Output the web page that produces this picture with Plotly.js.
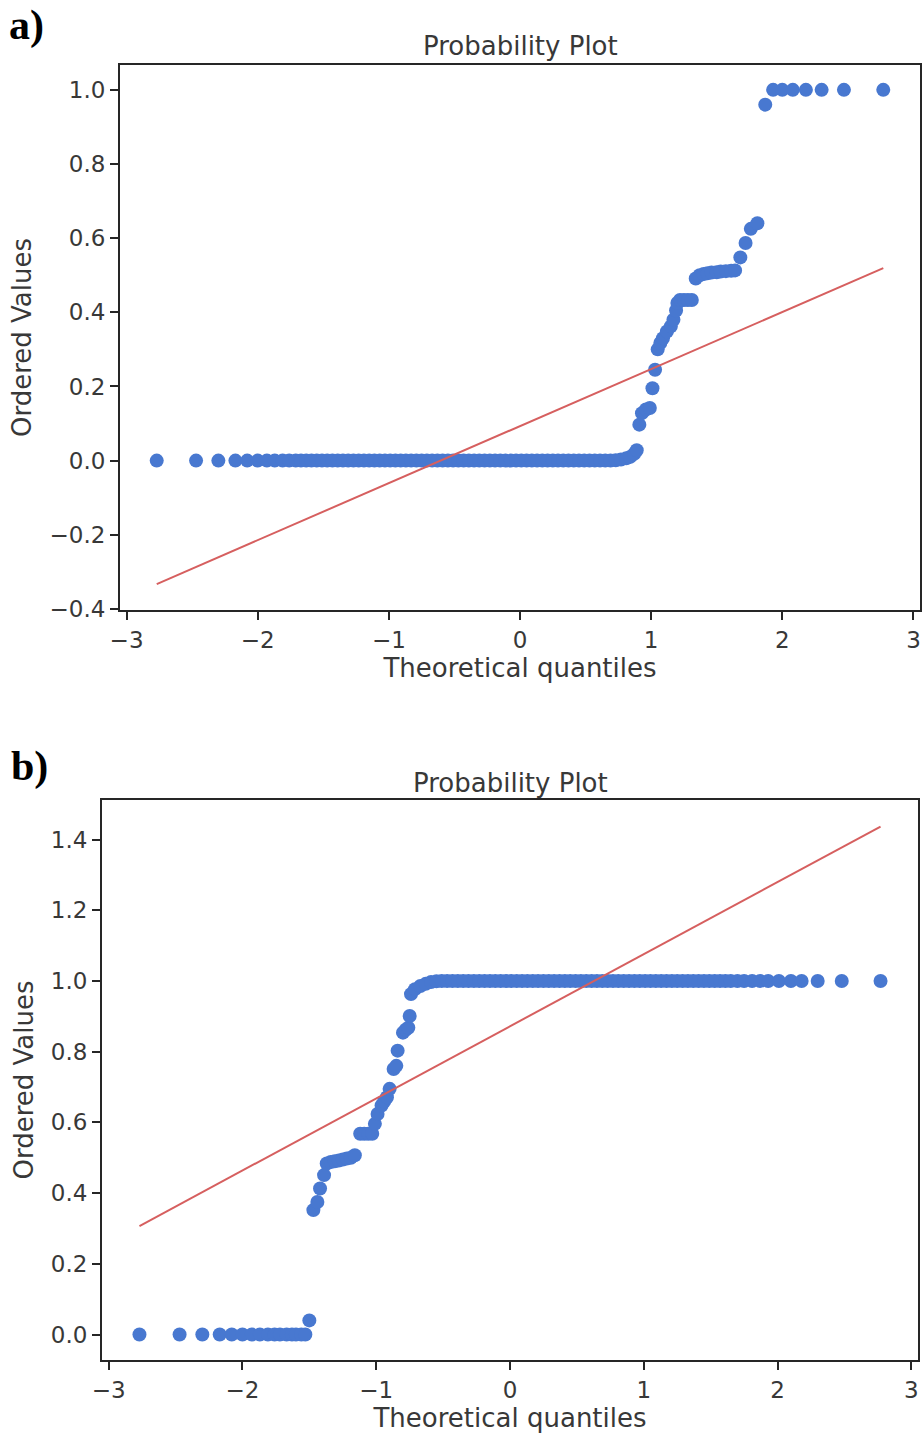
<!DOCTYPE html>
<html>
<head>
<meta charset="utf-8">
<script src="https://cdn.plot.ly/plotly-3.0.1.min.js"></script>
<style>html,body{margin:0;padding:0;background:#fff;}#chart{width:922px;height:1437px;}</style>
</head>
<body>
<div id="chart"></div>
<script>
// ---------- Panel a data (theoretical quantile, ordered value) ----------
const quantilesA = [-2.77,-2.47,-2.30,-2.17,-2.08,-2.00,-1.93,-1.87,-1.81,-1.76,-1.71,-1.67,-1.63,-1.59,-1.55,-1.51,-1.47,-1.43,-1.39,-1.35,-1.31,-1.27,-1.23,-1.19,-1.15,-1.11,-1.07,-1.03,-0.99,-0.95,-0.91,-0.87,-0.83,-0.79,-0.75,-0.71,-0.67,-0.63,-0.59,-0.55,-0.51,-0.47,-0.43,-0.39,-0.35,-0.31,-0.27,-0.23,-0.19,-0.15,-0.11,-0.07,-0.03,0.01,0.05,0.09,0.13,0.17,0.21,0.25,0.29,0.33,0.37,0.41,0.45,0.49,0.53,0.57,0.61,0.65,0.69,
  0.73,0.77,0.81,0.84,0.87,0.89,0.91,0.93,0.96,0.99,1.01,1.03,1.05,1.07,1.09,1.12,1.15,1.17,1.19,1.20,1.22,1.25,1.28,1.31,1.34,1.37,1.40,1.43,1.46,1.50,1.53,1.57,1.61,1.64,1.68,1.72,1.76,1.81,1.87,1.93,2.00,2.08,2.18,2.30,2.47,2.77];
const valuesA = [0,0,0,0,0,0,0,0,0,0,0,0,0,0,0,0,0,0,0,0,0,0,0,0,0,0,0,0,0,0,0,0,0,0,0,0,0,0,0,0,0,0,0,0,0,0,0,0,0,0,0,0,0,0,0,0,0,0,0,0,0,0,0,0,0,0,0,0,0,0,0,
  0.001,0.003,0.006,0.010,0.018,0.028,0.097,0.128,0.138,0.142,0.195,0.245,0.300,0.317,0.330,0.348,0.362,0.380,0.405,0.425,0.433,0.433,0.433,0.433,0.491,0.500,0.503,0.505,0.507,0.508,0.510,0.511,0.512,0.513,0.548,0.587,0.625,0.640,0.960,1.0,1.0,1.0,1.0,1.0,1.0,1.0];
const fitXA = [-2.77, 2.77];
const fitYA = [-0.333, 0.519];

// ---------- Panel b data ----------
const quantilesB = [-2.77,-2.47,-2.30,-2.17,-2.08,-2.00,-1.93,-1.87,-1.81,-1.76,-1.72,-1.67,-1.63,-1.60,-1.56,-1.53,-1.50,
  -1.47,-1.44,-1.42,-1.39,-1.37,-1.34,-1.31,-1.28,-1.25,-1.22,-1.19,-1.16,-1.12,-1.09,-1.06,-1.03,-1.01,-0.99,-0.96,-0.94,-0.92,-0.90,-0.87,-0.85,-0.84,-0.80,-0.78,-0.76,-0.75,-0.74,-0.71,-0.67,-0.63,-0.59,-0.55,
  -0.51,-0.47,-0.43,-0.39,-0.35,-0.31,-0.27,-0.23,-0.19,-0.15,-0.11,-0.07,-0.03,0.01,0.05,0.09,0.13,0.17,0.21,0.25,0.29,0.33,0.37,0.41,0.45,0.49,0.53,0.57,0.61,0.65,0.69,0.73,0.77,0.81,0.85,0.89,0.93,0.97,1.01,1.05,1.09,1.13,1.17,1.21,1.25,1.29,1.33,1.37,1.41,1.45,1.49,1.53,1.57,1.61,1.65,1.70,1.75,1.81,1.87,1.93,2.01,2.10,2.18,2.30,2.48,2.77];
const valuesB = [0,0,0,0,0,0,0,0,0,0,0,0,0,0,0,0,0.040,
  0.352,0.375,0.413,0.451,0.484,0.488,0.490,0.492,0.495,0.498,0.500,0.507,0.568,0.568,0.568,0.568,0.596,0.624,0.648,0.660,0.671,0.695,0.751,0.760,0.803,0.854,0.862,0.868,0.901,0.963,0.977,0.986,0.992,0.997,0.999,
  1.0,1.0,1.0,1.0,1.0,1.0,1.0,1.0,1.0,1.0,1.0,1.0,1.0,1.0,1.0,1.0,1.0,1.0,1.0,1.0,1.0,1.0,1.0,1.0,1.0,1.0,1.0,1.0,1.0,1.0,1.0,1.0,1.0,1.0,1.0,1.0,1.0,1.0,1.0,1.0,1.0,1.0,1.0,1.0,1.0,1.0,1.0,1.0,1.0,1.0,1.0,1.0,1.0,1.0,1.0,1.0,1.0,1.0,1.0,1.0,1.0,1.0,1.0,1.0,1.0,1.0,1.0,1.0];
const fitXB = [-2.77, 2.77];
const fitYB = [0.307, 1.437];

const xTicks = [-3,-2,-1,0,1,2,3];
const xTickText = ['\u22123','\u22122','\u22121','0','1','2','3'];
const yTicksA = [-0.4,-0.2,0,0.2,0.4,0.6,0.8,1.0];
const yTickTextA = ['\u22120.4','\u22120.2','0.0','0.2','0.4','0.6','0.8','1.0'];
const yTicksB = [0,0.2,0.4,0.6,0.8,1.0,1.2,1.4];
const yTickTextB = ['0.0','0.2','0.4','0.6','0.8','1.0','1.2','1.4'];

const W = 922, H = 1437;
const blue = '#4878d0', red = '#d65f5f', txt = '#383838';
const FONT = 'DejaVu Sans, sans-serif';
const TICK = 23, LAB = 26;

const markerStyle = {color: blue, size: 14, line: {width: 0}};
const traces = [
  {x: quantilesA, y: valuesA, mode: 'markers', type: 'scatter', marker: markerStyle, xaxis: 'x', yaxis: 'y', hoverinfo: 'x+y'},
  {x: fitXA, y: fitYA, mode: 'lines', type: 'scatter', line: {color: red, width: 2}, xaxis: 'x', yaxis: 'y'},
  {x: quantilesB, y: valuesB, mode: 'markers', type: 'scatter', marker: markerStyle, xaxis: 'x2', yaxis: 'y2', hoverinfo: 'x+y'},
  {x: fitXB, y: fitYB, mode: 'lines', type: 'scatter', line: {color: red, width: 2}, xaxis: 'x2', yaxis: 'y2'}
];

function axisBase() {
  return {
    showgrid: false, zeroline: false, showline: true, mirror: true,
    linecolor: '#262626', linewidth: 2,
    ticks: 'outside', ticklen: 8, tickwidth: 2, tickcolor: '#262626',
    tickfont: {family: FONT, size: TICK, color: txt}
  };
}

const xa = Object.assign(axisBase(), {domain: [120/W, 920/W], range: [-3.05, 3.05], tickvals: xTicks, ticktext: xTickText, anchor: 'y'});
xa.title = {text: 'Theoretical quantiles', font: {family: FONT, size: LAB, color: txt}, standoff: 6};
const ya = Object.assign(axisBase(), {domain: [1 - 610/H, 1 - 65/H], range: [-0.403, 1.067], tickvals: yTicksA, ticktext: yTickTextA, anchor: 'x'});
ya.title = {text: 'Ordered Values', font: {family: FONT, size: LAB, color: txt}, standoff: 10};
const xb = Object.assign(axisBase(), {domain: [102/W, 918/W], range: [-3.05, 3.05], tickvals: xTicks, ticktext: xTickText, anchor: 'y2'});
xb.title = {text: 'Theoretical quantiles', font: {family: FONT, size: LAB, color: txt}, standoff: 6};
const yb = Object.assign(axisBase(), {domain: [1 - 1360/H, 1 - 800/H], range: [-0.072, 1.512], tickvals: yTicksB, ticktext: yTickTextB, anchor: 'x2'});
yb.title = {text: 'Ordered Values', font: {family: FONT, size: LAB, color: txt}, standoff: 10};

const layout = {
  width: W, height: H,
  margin: {l: 0, r: 0, t: 0, b: 0},
  paper_bgcolor: '#ffffff', plot_bgcolor: '#ffffff',
  showlegend: false,
  xaxis: xa, yaxis: ya, xaxis2: xb, yaxis2: yb,
  annotations: [
    {text: 'Probability Plot', xref: 'paper', yref: 'paper', x: 520/W, y: 1 - 46/H, xanchor: 'center', yanchor: 'middle', showarrow: false, font: {family: FONT, size: LAB, color: txt}},
    {text: 'Probability Plot', xref: 'paper', yref: 'paper', x: 510/W, y: 1 - 783/H, xanchor: 'center', yanchor: 'middle', showarrow: false, font: {family: FONT, size: LAB, color: txt}},
    {text: '<b>a)</b>', xref: 'paper', yref: 'paper', x: 7/W, y: 1 - 25/H, xanchor: 'left', yanchor: 'middle', showarrow: false, font: {family: 'Liberation Serif, Times New Roman, serif', size: 42, color: '#000'}},
    {text: '<b>b)</b>', xref: 'paper', yref: 'paper', x: 9/W, y: 1 - 766/H, xanchor: 'left', yanchor: 'middle', showarrow: false, font: {family: 'Liberation Serif, Times New Roman, serif', size: 42, color: '#000'}}
  ]
};

Plotly.newPlot('chart', traces, layout, {staticPlot: true, displayModeBar: false});
</script>
</body>
</html>
